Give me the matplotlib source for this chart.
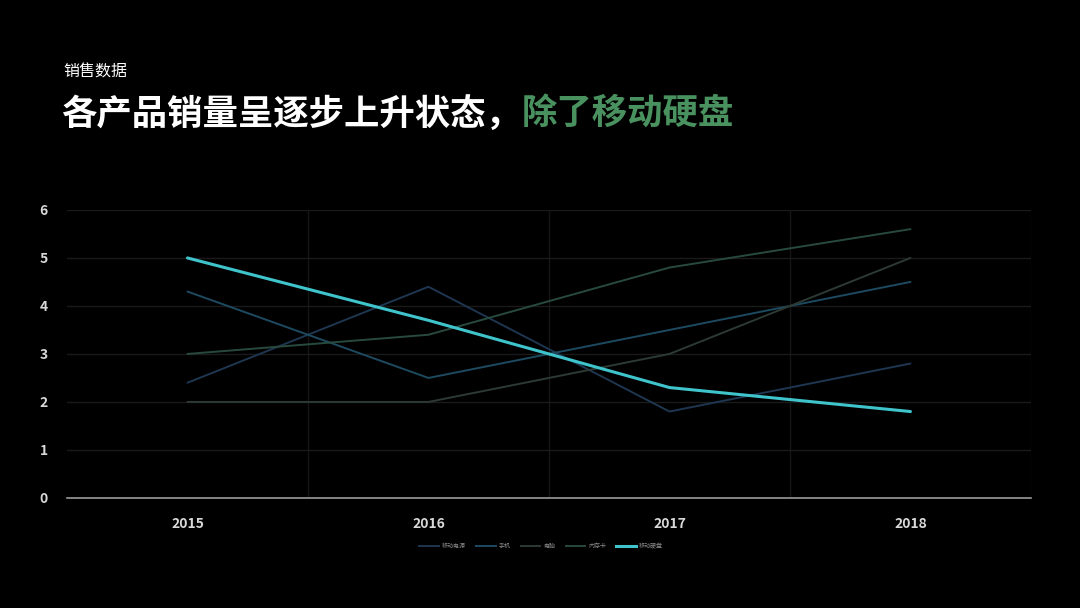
import numpy as np
import matplotlib
matplotlib.use("Agg")
import matplotlib.pyplot as plt
from matplotlib.lines import Line2D

plt.rcParams['font.family'] = ['Noto Sans CJK SC', 'DejaVu Sans']

years = ['2015', '2016', '2017', '2018']
series_names = ['移动电源', '手机', '电脑', '内存卡', '移动硬盘']
power_bank = [2.4, 4.4, 1.8, 2.8]
phone = [4.3, 2.5, 3.5, 4.5]
computer = [2.0, 2.0, 3.0, 5.0]
memory_card = [3.0, 3.4, 4.8, 5.6]
hard_disk = [5.0, 3.7, 2.3, 1.8]

colors = ['#1f3650', '#1d4a60', '#2c3a33', '#284a3e', '#3fc4cc']
widths = [1.4, 1.4, 1.4, 1.4, 2.2]

fig = plt.figure(figsize=(10.8, 6.08), dpi=100, facecolor='black')
ax = fig.add_axes([0.062, 0.181, 0.8926, 0.4737], facecolor='black')

x = np.arange(len(years))
data = [power_bank, phone, computer, memory_card, hard_disk]
for vals, c, w, name in zip(data, colors, widths, series_names):
    ax.plot(x, vals, color=c, lw=w, label=name, zorder=3 if name != '移动硬盘' else 4,
            solid_capstyle='round')

ax.set_xlim(-0.5, 3.5)
ax.set_ylim(0, 6)
ax.set_yticks(range(7))
ax.set_xticks(x)
ax.set_xticklabels(years)

# grid
for yv in range(1, 7):
    ax.axhline(yv, color='#1a1a1a', lw=1, zorder=1)
for xv in [0.5, 1.5, 2.5, 3.5]:
    ax.axvline(xv, color='#161616', lw=1, zorder=1)

for s in ['top', 'right', 'left']:
    ax.spines[s].set_visible(False)
ax.spines['bottom'].set_color('#9a9a9a')
ax.spines['bottom'].set_linewidth(1.2)

ax.tick_params(axis='both', length=0, colors='#d8d8d8', labelsize=10)
ax.tick_params(axis='y', pad=14)
ax.tick_params(axis='x', pad=14)
for lab in ax.get_xticklabels() + ax.get_yticklabels():
    lab.set_fontweight('bold')

# legend
handles = [Line2D([0], [0], color=c, lw=w) for c, w in zip(colors, widths)]
leg = fig.legend(handles, series_names, loc='center', bbox_to_anchor=(0.501, 0.102),
                 ncol=5, frameon=False, fontsize=4.3, handlelength=3.3,
                 columnspacing=1.7, handletextpad=0.5)
for t in leg.get_texts():
    t.set_color('#8a8a8a')

# titles
fig.text(0.059, 0.881, '销售数据', color='white', fontsize=11.5, fontweight='medium',
         va='center', ha='left')
t1 = fig.text(0.057, 0.813, '各产品销量呈逐步上升状态，', color='white', fontsize=25.5,
              fontweight='bold', va='center', ha='left')
fig.canvas.draw()
bb = t1.get_window_extent().transformed(fig.transFigure.inverted())
fig.text(bb.x1, 0.813, '除了移动硬盘', color='#4a9160', fontsize=25.5,
         fontweight='bold', va='center', ha='left')

fig.savefig('out.png', dpi=100, facecolor='black')
